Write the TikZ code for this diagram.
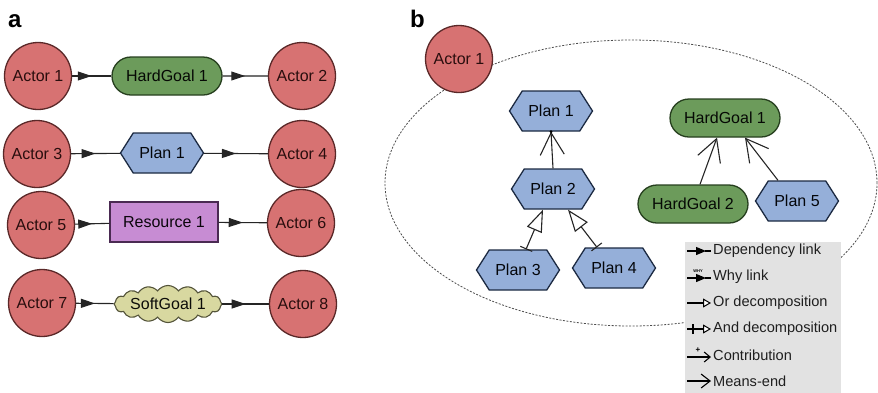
\documentclass[tikz,border=0pt]{standalone}
\usepackage{fontspec}
\setmainfont{Liberation Sans}
\usetikzlibrary{arrows.meta,shapes.geometric,shapes.misc,shapes.symbols,decorations.markings}
\definecolor{actorred}{HTML}{D77272}
\definecolor{actorline}{HTML}{5A2828}
\definecolor{actortext}{HTML}{2A0E0E}
\definecolor{goalgreen}{HTML}{6C9B5B}
\definecolor{goalline}{HTML}{263F1E}
\definecolor{planblue}{HTML}{95AFD9}
\definecolor{planline}{HTML}{1C2A42}
\definecolor{resviolet}{HTML}{C78CD3}
\definecolor{resline}{HTML}{4A2A52}
\definecolor{softkhaki}{HTML}{D8D8A0}
\definecolor{softline}{HTML}{54543A}
\definecolor{linkgray}{HTML}{252525}
\definecolor{legendgray}{HTML}{E2E2E2}

\begin{document}
\begin{tikzpicture}[x=1pt,y=-1pt,
    nodeText/.style={font=\fontsize{16}{18}\selectfont},
    panelLabel/.style={font=\fontsize{24}{26}\selectfont\bfseries,inner sep=0pt},
    actor/.style={circle,draw=actorline,fill=actorred,line width=1.3pt,
      minimum size=67pt,inner sep=0pt,nodeText,text=actortext},
    hardgoal/.style={rounded rectangle,draw=goalline,fill=goalgreen,line width=1.3pt,
      minimum width=110pt,minimum height=38pt,inner sep=0pt,nodeText,text=black!85!goalline},
    plan/.style={signal,signal to=east and west,signal pointer angle=115,
      draw=planline,fill=planblue,line width=1.3pt,minimum width=83pt,minimum height=40pt,
      inner sep=0pt,nodeText,text=black!85!planline},
    resource/.style={rectangle,draw=resline,fill=resviolet,line width=1.3pt,
      minimum width=108pt,minimum height=40pt,inner sep=0pt,nodeText,text=black!85!resline},
    softgoal/.style={cloud,cloud puffs=16,cloud puff arc=110,aspect=4,
      draw=softline,fill=softkhaki,line width=1.1pt,minimum width=100pt,minimum height=30pt,
      inner sep=0pt,nodeText,text=black!85!softline},
    deplink/.style={color=linkgray,line width=1.1pt,postaction={decorate},
      decoration={markings,mark=at position .5 with {\arrow{Triangle[length=14pt,width=9pt]}}}},
    meansend/.style={color=linkgray,line width=1.1pt,
      -{Straight Barb[length=22pt,width=24pt,line width=1.1pt]}},
    anddecomp/.style={color=linkgray,line width=1.1pt,
      {Bar[width=13pt,line width=1.1pt]}-{Triangle[fill=white,length=22pt,width=16pt,line width=1.1pt]}},
    boundary/.style={ellipse,draw=black!70,line width=.8pt,dash pattern=on 2pt off 1.5pt,
      minimum width=492pt,minimum height=286pt,inner sep=0pt},
    legendbox/.style={rectangle,fill=legendgray,draw=none,minimum width=156pt,
      minimum height=152pt,inner sep=0pt,anchor=north west},
    legendtext/.style={font=\fontsize{14.6}{16}\selectfont,text=black!88,inner sep=0pt,anchor=west},
    legendicon/.style={color=black,line width=1.2pt}
  ]
  \useasboundingbox (0,0) rectangle (878,392);

  % ---- panel a: dependencies between actors
  \node[panelLabel,anchor=base west] (labelA) at (8,27) {a};

  \node[actor] (leftActor1) at (38,76) {Actor 1};
  \node[hardgoal] (leftHardGoal) at (167,76) {HardGoal 1};
  \node[actor] (leftActor2) at (302,76) {Actor 2};

  \node[actor] (leftActor3) at (37,154) {Actor 3};
  \node[plan] (leftPlan) at (162,153) {Plan 1};
  \node[actor] (leftActor4) at (302,154) {Actor 4};

  \node[actor] (leftActor5) at (41,225) {Actor 5};
  \node[resource] (leftResource) at (164,222) {Resource 1};
  \node[actor] (leftActor6) at (301,223) {Actor 6};

  \node[actor] (leftActor7) at (42,303) {Actor 7};
  \node[softgoal] (leftSoftGoal) at (168,304) {SoftGoal 1};
  \node[actor] (leftActor8) at (303,304) {Actor 8};

  \foreach \a/\b/\c in {leftActor1/leftHardGoal/leftActor2,
      leftActor3/leftPlan/leftActor4,
      leftActor5/leftResource/leftActor6,
      leftActor7/leftSoftGoal/leftActor8} {
    \draw[deplink] (\a) -- (\b);
    \draw[deplink] (\b) -- (\c);
  }

  % ---- panel b: inside the actor boundary
  \node[panelLabel,anchor=base west] (labelB) at (410,27) {b};
  \node[boundary] (rightBoundary) at (631,183) {};
  \node[actor] (rightActor) at (459,59) {Actor 1};

  \node[plan] (rightPlan1) at (551,111) {Plan 1};
  \node[plan] (rightPlan2) at (553,189) {Plan 2};
  \node[plan] (rightPlan3) at (518,270) {Plan 3};
  \node[plan] (rightPlan4) at (614,268) {Plan 4};
  \node[hardgoal] (rightHardGoal1) at (725,118) {HardGoal 1};
  \node[hardgoal] (rightHardGoal2) at (693,204) {HardGoal 2};
  \node[plan] (rightPlan5) at (797,201) {Plan 5};

  \draw[meansend] (rightPlan2.north) -- (rightPlan1.south);
  \fill[black] (rightPlan1.south) circle (1.6pt);
  \draw[anddecomp] ([xshift=8pt]rightPlan3.north) -- ([xshift=-10pt]rightPlan2.south);
  \draw[anddecomp] ([xshift=-17pt]rightPlan4.north) -- ([xshift=15pt]rightPlan2.south);
  \draw[meansend] ([xshift=7pt]rightHardGoal2.north) -- ([xshift=-8pt]rightHardGoal1.south);
  \draw[meansend] ([xshift=-19pt]rightPlan5.north) -- ([xshift=20pt]rightHardGoal1.south);

  % ---- legend
  \node[legendbox] (legendBox) at (685,242) {};
  \foreach \i/\txt in {1/Dependency link,2/Why link,3/Or decomposition,
      4/And decomposition,5/Contribution,6/Means-end}
    \node[legendtext] (legendItem\i) at (713,{251+26*(\i-1)}) {\txt};

  \draw[legendicon,-{Triangle[length=10pt,width=8pt]}]
    ([xshift=-26pt]legendItem1.west) -- ([xshift=-7pt]legendItem1.west);
  \draw[legendicon] ([xshift=-8pt]legendItem1.west) -- ([xshift=-2pt]legendItem1.west);
  \draw[legendicon,-{Triangle[length=10pt,width=8pt]}]
    ([xshift=-26pt,yshift=-1pt]legendItem2.west) -- ([xshift=-7pt,yshift=-1pt]legendItem2.west);
  \draw[legendicon] ([xshift=-8pt,yshift=-1pt]legendItem2.west) -- ([xshift=-2pt,yshift=-1pt]legendItem2.west);
  \node[font=\fontsize{4}{4}\selectfont\bfseries,inner sep=0pt] at ([xshift=-15pt,yshift=6pt]legendItem2.west) {WHY};
  \draw[legendicon,-{Triangle[fill=white,length=8pt,width=9pt,line width=1pt]}]
    ([xshift=-26pt]legendItem3.west) -- ([xshift=-2pt]legendItem3.west);
  \draw[legendicon,-{Triangle[fill=white,length=8pt,width=9pt,line width=1pt]}]
    ([xshift=-26pt]legendItem4.west) -- ([xshift=-2pt]legendItem4.west);
  \draw[legendicon] ([xshift=-20pt,yshift=-5pt]legendItem4.west) -- ([xshift=-20pt,yshift=5pt]legendItem4.west);
  \draw[legendicon,-{Straight Barb[length=6pt,width=10pt,line width=1.1pt]}]
    ([xshift=-26pt,yshift=-2pt]legendItem5.west) -- ([xshift=-2pt,yshift=-2pt]legendItem5.west);
  \node[font=\fontsize{8}{8}\selectfont\bfseries,inner sep=0pt] at ([xshift=-15pt,yshift=5pt]legendItem5.west) {+};
  \draw[legendicon,-{Straight Barb[length=9pt,width=14pt,line width=1.1pt]}]
    ([xshift=-26pt]legendItem6.west) -- ([xshift=-2pt]legendItem6.west);
\end{tikzpicture}
\end{document}
